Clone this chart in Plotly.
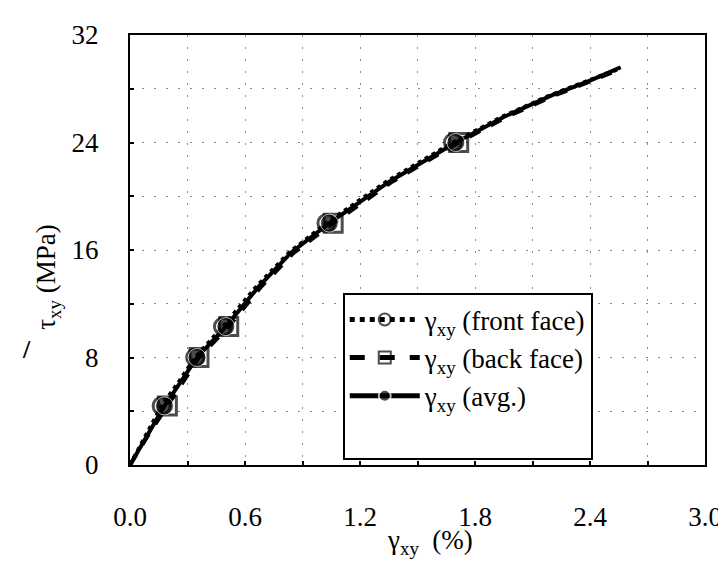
import plotly.graph_objects as go

# shear strain (%) vs shear stress (MPa)
gamma_front = [0, 0.093, 0.165, 0.26, 0.34, 0.485, 0.655, 0.83, 1.025, 1.34, 1.685, 1.94, 2.19, 2.39, 2.555]
tau_front = [0, 2.4, 4.4, 6.3, 8.0, 10.3, 13.2, 15.8, 18.0, 21.1, 24.0, 25.9, 27.5, 28.6, 29.5]

gamma_back = [0, 0.103, 0.195, 0.28, 0.36, 0.515, 0.68, 0.855, 1.06, 1.37, 1.715, 1.965, 2.215, 2.41, 2.565]
tau_back = [0, 2.4, 4.4, 6.3, 8.0, 10.3, 13.2, 15.8, 18.0, 21.1, 24.0, 25.9, 27.5, 28.6, 29.5]

gamma_avg = [0, 0.098, 0.18, 0.27, 0.35, 0.50, 0.667, 0.84, 1.04, 1.355, 1.70, 1.95, 2.20, 2.40, 2.56]
tau_avg = [0, 2.4, 4.4, 6.3, 8.0, 10.3, 13.2, 15.8, 18.0, 21.1, 24.0, 25.9, 27.5, 28.6, 29.6]

marked = [2, 4, 5, 8, 10]  # indices of the points that carry a symbol

x_ticks = [0.0, 0.6, 1.2, 1.8, 2.4, 3.0]
y_ticks = [0, 8, 16, 24, 32]

FONT = "Liberation Serif, Times New Roman, serif"
GRID = dict(showgrid=True, gridcolor="#8a8a8a", gridwidth=1.3, griddash="2px,10px")


def sizes(n, s):
    return [s if i in marked else 0 for i in range(n)]


fig = go.Figure()

fig.add_trace(go.Scatter(
    x=gamma_front, y=tau_front, mode="lines+markers",
    name="γ<sub>xy</sub> (front face)", legendgroup="a",
    line=dict(color="black", width=4, dash="dot"),
    marker=dict(symbol="circle-open", size=sizes(len(gamma_front), 17),
                color="black", line=dict(width=3, color="black")),
))
fig.add_trace(go.Scatter(
    x=gamma_back, y=tau_back, mode="lines+markers",
    name="γ<sub>xy</sub> (back face)", legendgroup="b",
    line=dict(color="black", width=4, dash="dash"),
    marker=dict(symbol="square-open", size=sizes(len(gamma_back), 18),
                color="black", line=dict(width=3, color="black")),
))
fig.add_trace(go.Scatter(
    x=gamma_avg, y=tau_avg, mode="lines+markers",
    name="γ<sub>xy</sub> (avg.)", legendgroup="c",
    line=dict(color="black", width=4),
    marker=dict(symbol="circle", size=sizes(len(gamma_avg), 18), color="black"),
))
# blank entry: the legend box in the original has empty room at the bottom
fig.add_trace(go.Scatter(
    x=[None], y=[None], mode="lines", name=" ", legendgroup="d",
    line=dict(color="rgba(0,0,0,0)", width=0),
))

axis_common = dict(
    showline=True, linecolor="black", linewidth=2.2, mirror=True,
    ticks="inside", ticklen=4, tickwidth=1.5, tickcolor="black",
    zeroline=False,
    tickfont=dict(family=FONT, size=27, color="black"),
    **GRID,
)

fig.update_xaxes(
    **axis_common, range=[0, 3.0], tickvals=x_ticks, tickformat=".1f",
    ticklabelstandoff=26,
    minor=dict(dtick=0.3, ticks="inside", ticklen=4, tickcolor="black", **GRID),
)
fig.update_yaxes(
    **axis_common, range=[0, 32], tickvals=y_ticks,
    ticklabelstandoff=24,
    minor=dict(dtick=4, ticks="inside", ticklen=4, tickcolor="black", **GRID),
)

fig.update_layout(
    width=726, height=563,
    margin=dict(l=122, r=26, t=26, b=106),
    paper_bgcolor="white", plot_bgcolor="white",
    font=dict(family=FONT, size=27, color="black"),
    showlegend=True,
    legend=dict(
        x=0.370, y=0.399, xanchor="left", yanchor="top",
        bgcolor="white", bordercolor="black", borderwidth=2,
        font=dict(family=FONT, size=27, color="black"),
        itemwidth=70, itemsizing="constant", tracegroupgap=0,
    ),
    annotations=[
        dict(text="γ<sub>xy</sub>&nbsp;&nbsp;(%)", xref="paper", yref="paper",
             x=0.521, y=-0.178, xanchor="center", yanchor="middle",
             showarrow=False, font=dict(family=FONT, size=27)),
        dict(text="τ<sub>xy</sub> (MPa)", xref="paper", yref="paper",
             x=-0.142, y=0.4385, xanchor="center", yanchor="middle", textangle=-90,
             showarrow=False, font=dict(family=FONT, size=27)),
        dict(text="<b>/</b>", xref="paper", yref="paper",
             x=-0.18, y=0.269, xanchor="center", yanchor="middle",
             showarrow=False, font=dict(family=FONT, size=26)),
    ],
)

fig.write_html("out.html")
